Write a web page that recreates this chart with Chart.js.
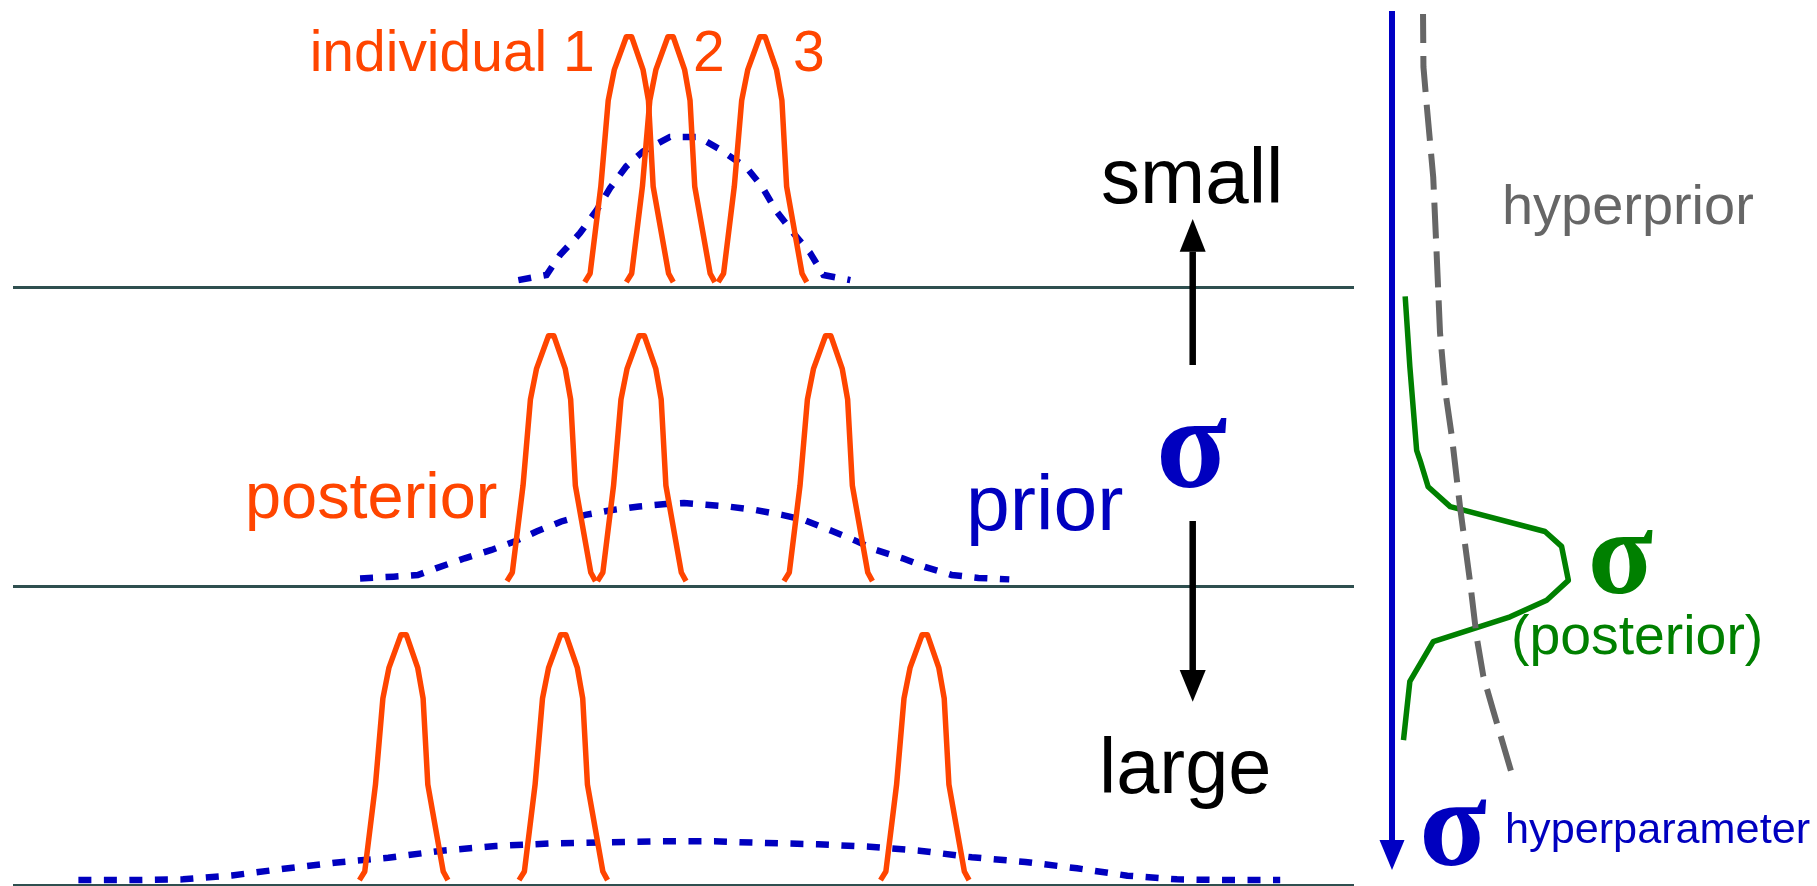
<!DOCTYPE html>
<html>
<head>
<meta charset="utf-8">
<title>Hierarchical prior: effect of the hyperparameter σ</title>
<script src="https://cdn.jsdelivr.net/npm/chart.js@4.4.1/dist/chart.umd.min.js"></script>
<style>
  html, body { margin: 0; padding: 0; background: #ffffff; overflow: hidden; }
  #stage { position: relative; width: 1817px; height: 886px; }
  #stage canvas { position: absolute; left: 0; }
</style>
</head>
<body>
<div id="stage">
  <canvas id="panelSmall" width="1360" height="299" style="top:0px"></canvas>
  <canvas id="panelMid" width="1360" height="299" style="top:299px"></canvas>
  <canvas id="panelLarge" width="1360" height="299" style="top:598px"></canvas>
  <canvas id="hyper" width="1817" height="886" style="top:0px"></canvas>
</div>
<script>
// ---------------------------------------------------------------
// Data (parameter θ on the horizontal axis, density vertically)
// ---------------------------------------------------------------

// Relative density at each vertex of an individual's posterior curve
const peakDensity = [0, 0.035, 0.39, 0.74, 0.865, 1, 1, 0.865, 0.74, 0.39, 0.035, 0];

// σ small: the three posteriors are pulled close together
const smallPost1X = [-1.47, -1.39, -1.23, -1.12, -1.03, -0.85, -0.77, -0.60, -0.52, -0.45, -0.22, -0.15];
const smallPost2X = [-0.85, -0.77, -0.61, -0.50, -0.41, -0.23, -0.15, 0.02, 0.10, 0.17, 0.40, 0.47];
const smallPost3X = [0.52, 0.60, 0.76, 0.87, 0.96, 1.14, 1.22, 1.39, 1.47, 1.54, 1.77, 1.84];
const smallPriorX = [-2.46, -2.04, -1.84, -1.54, -1.29, -1.09, -0.85, -0.60, -0.20, 0.22, 0.55, 0.95, 1.17, 1.39, 1.64, 1.89, 2.09, 2.49];
const smallPriorY = [0.008, 0.029, 0.110, 0.200, 0.294, 0.384, 0.472, 0.533, 0.592, 0.592, 0.540, 0.465, 0.390, 0.288, 0.200, 0.119, 0.029, 0.008];

// σ intermediate
const midPost1X = [-2.63, -2.55, -2.39, -2.28, -2.19, -2.01, -1.93, -1.76, -1.68, -1.61, -1.38, -1.31];
const midPost2X = [-1.28, -1.20, -1.04, -0.93, -0.84, -0.66, -0.58, -0.41, -0.33, -0.26, -0.03, 0.04];
const midPost3X = [1.50, 1.58, 1.74, 1.85, 1.94, 2.12, 2.20, 2.37, 2.45, 2.52, 2.75, 2.82];
const midPriorX = [-4.82, -4.32, -3.96, -3.69, -3.26, -2.86, -2.52, -2.19, -1.82, -1.46, -1.06, -0.66, -0.26, 0.01, 0.34, 0.67, 1.07, 1.47, 1.80, 2.20, 2.54, 2.87, 3.27, 3.60, 4.00, 4.40, 4.86];
const midPriorY = [0.011, 0.018, 0.025, 0.052, 0.093, 0.127, 0.161, 0.202, 0.243, 0.270, 0.290, 0.304, 0.314, 0.318, 0.311, 0.304, 0.290, 0.270, 0.249, 0.206, 0.168, 0.127, 0.093, 0.058, 0.025, 0.013, 0.007];

// σ large: the posteriors stay far apart
const largePost1X = [-4.83, -4.75, -4.59, -4.48, -4.39, -4.21, -4.13, -3.96, -3.88, -3.81, -3.58, -3.51];
const largePost2X = [-2.45, -2.37, -2.21, -2.10, -2.01, -1.83, -1.75, -1.58, -1.50, -1.43, -1.20, -1.13];
const largePost3X = [2.94, 3.02, 3.18, 3.29, 3.38, 3.56, 3.64, 3.81, 3.89, 3.96, 4.19, 4.26];
const largePriorX = [-9.02, -8.26, -7.46, -6.73, -5.96, -5.20, -4.40, -3.60, -2.80, -2.00, -1.20, -0.40, 0.46, 1.24, 2.01, 2.78, 3.52, 4.30, 5.10, 5.87, 6.62, 7.36, 8.16, 8.90];
const largePriorY = [0, 0, 0.003, 0.019, 0.046, 0.071, 0.091, 0.120, 0.139, 0.149, 0.154, 0.158, 0.158, 0.151, 0.146, 0.136, 0.120, 0.093, 0.074, 0.048, 0.018, 0.003, 0, 0];

// Hyperparameter σ (downward axis) with the hyperprior and the posterior of σ
const hyperpriorSigma   = [0.00, 0.64, 1.12, 1.97, 2.89, 3.85, 4.54, 5.11, 5.95, 6.87, 7.52, 8.00, 8.41, 9.23];
const hyperpriorDensity = [0.73, 0.74, 0.82, 0.97, 1.05, 1.13, 1.25, 1.41, 1.60, 1.84, 1.99, 2.15, 2.38, 2.85];
const sigmaPostSigma    = [3.41, 4.26, 5.27, 5.39, 5.71, 5.95, 6.25, 6.43, 6.84, 7.08, 7.28, 7.58, 8.06, 8.77];
const sigmaPostDensity  = [0.31, 0.42, 0.58, 0.66, 0.85, 1.37, 3.60, 3.99, 4.15, 3.64, 2.78, 0.97, 0.42, 0.27];

// ---------------------------------------------------------------
// Styles
// ---------------------------------------------------------------
const ORANGE = '#FF4500';
const BLUE = '#0000BF';
const AXIS_BLUE = '#0000C4';
const GREEN = '#008000';
const GREY = '#666666';
const BASELINE = '#2F4F4F';
const SANS = '"Liberation Sans", Arial, Helvetica, sans-serif';
const SERIF = '"Liberation Serif", "Times New Roman", serif';

function points(xs, ys) {
  return xs.map((x, i) => ({ x: x, y: ys[i] }));
}

const quiet = {
  responsive: false,
  animation: false,
  events: [],
  devicePixelRatio: 1,
  plugins: { legend: { display: false }, tooltip: { enabled: false }, title: { display: false } },
  elements: { point: { radius: 0, hoverRadius: 0 }, line: { tension: 0, fill: false } }
};

// One horizontal strip: three posteriors (solid) and the prior (dotted)
function panelChart(canvasId, posteriors, priorX, priorY) {
  const datasets = posteriors.map(xs => ({
    data: points(xs, peakDensity),
    borderColor: ORANGE,
    borderWidth: 5.5,
    borderJoinStyle: 'round',
    borderCapStyle: 'butt'
  }));
  datasets.push({
    data: points(priorX, priorY),
    borderColor: BLUE,
    borderWidth: 6.5,
    borderDash: [13, 12.5],
    borderCapStyle: 'butt'
  });
  return new Chart(document.getElementById(canvasId), {
    type: 'line',
    data: { datasets: datasets },
    options: Object.assign({}, quiet, {
      layout: { padding: { left: 14, right: 7, top: 0, bottom: 12 } },
      scales: {
        x: {
          type: 'linear', min: -9.98, max: 9.985,
          grid: { display: false, drawTicks: false },
          ticks: { display: false },
          border: { display: true, color: BASELINE, width: 3 }
        },
        y: { type: 'linear', min: -0.02, max: 1.15, display: false }
      }
    })
  });
}

panelChart('panelSmall', [smallPost1X, smallPost2X, smallPost3X], smallPriorX, smallPriorY);
panelChart('panelMid', [midPost1X, midPost2X, midPost3X], midPriorX, midPriorY);
panelChart('panelLarge', [largePost1X, largePost2X, largePost3X], largePriorX, largePriorY);

// ---------------------------------------------------------------
// Labels and arrows
// ---------------------------------------------------------------

// Draws text so that its ink fits between x0 and x1 (unless a size is given)
function inkText(ctx, text, family, weight, color, x0, x1, opts) {
  ctx.save();
  ctx.textAlign = 'left';
  ctx.textBaseline = 'alphabetic';
  let size = opts.size;
  if (!size) {
    ctx.font = weight + ' 100px ' + family;
    const m0 = ctx.measureText(text);
    size = 100 * (x1 - x0) / (m0.actualBoundingBoxLeft + m0.actualBoundingBoxRight);
  }
  ctx.font = weight + ' ' + size.toFixed(2) + 'px ' + family;
  const m = ctx.measureText(text);
  const x = x0 + m.actualBoundingBoxLeft;
  let y = opts.baseline;
  if (y === undefined) {
    y = opts.yc + (m.actualBoundingBoxAscent - m.actualBoundingBoxDescent) / 2;
  }
  ctx.fillStyle = color;
  ctx.fillText(text, x, y);
  ctx.restore();
  return size;
}

function arrow(ctx, x, yFrom, yHeadBase, yTip, shaftWidth, headWidth, color) {
  ctx.save();
  ctx.strokeStyle = color;
  ctx.fillStyle = color;
  ctx.lineWidth = shaftWidth;
  ctx.lineCap = 'butt';
  ctx.beginPath();
  ctx.moveTo(x, yFrom);
  ctx.lineTo(x, yHeadBase);
  ctx.stroke();
  ctx.beginPath();
  ctx.moveTo(x - headWidth / 2, yHeadBase);
  ctx.lineTo(x + headWidth / 2, yHeadBase);
  ctx.lineTo(x, yTip);
  ctx.closePath();
  ctx.fill();
  ctx.restore();
}

const labelPlugin = {
  id: 'diagramLabels',
  afterDraw(chart) {
    const ctx = chart.ctx;
    const area = chart.chartArea;

    // arrowhead at the end of the σ axis
    const axisX = chart.scales.y.right;
    ctx.save();
    ctx.fillStyle = AXIS_BLUE;
    ctx.beginPath();
    ctx.moveTo(axisX - 12.5, area.bottom - 2);
    ctx.lineTo(axisX + 12.5, area.bottom - 2);
    ctx.lineTo(axisX, area.bottom + 28);
    ctx.closePath();
    ctx.fill();
    ctx.restore();

    // individual labels
    const s = inkText(ctx, 'individual 1', SANS, 'normal', ORANGE, 312.7, 591.7, { baseline: 70.7 });
    inkText(ctx, '2', SANS, 'normal', ORANGE, 695, 722.7, { size: s, baseline: 70.7 });
    inkText(ctx, '3', SANS, 'normal', ORANGE, 795, 824, { size: s, baseline: 70.7 });

    inkText(ctx, 'posterior', SANS, 'normal', ORANGE, 249, 496.7, { baseline: 518.3 });
    inkText(ctx, 'prior', SANS, 'normal', BLUE, 971, 1122.7, { baseline: 530 });

    // σ small ↔ large
    inkText(ctx, 'small', SANS, 'normal', '#000000', 1103, 1279, { baseline: 202.7 });
    inkText(ctx, 'large', SANS, 'normal', '#000000', 1104, 1269, { baseline: 792.7 });
    inkText(ctx, 'σ', SERIF, 'bold', BLUE, 1160, 1226.7, { yc: 453 });
    arrow(ctx, 1192.7, 365, 251.7, 219, 6.5, 26, '#000000');
    arrow(ctx, 1192.7, 521, 670, 701.7, 6.5, 26, '#000000');

    // right-hand side
    inkText(ctx, 'hyperprior', SANS, 'normal', GREY, 1505, 1752.7, { baseline: 224 });
    inkText(ctx, 'σ', SERIF, 'bold', GREEN, 1591.7, 1653, { yc: 561.5 });
    inkText(ctx, '(posterior)', SANS, 'normal', GREEN, 1514, 1760, { baseline: 654 });
    inkText(ctx, 'σ', SERIF, 'bold', BLUE, 1423.3, 1486.7, { yc: 832 });
    inkText(ctx, 'hyperparameter', SANS, 'normal', BLUE, 1508, 1810, { baseline: 843.3 });
  }
};

new Chart(document.getElementById('hyper'), {
  type: 'line',
  data: {
    datasets: [
      {
        data: points(hyperpriorDensity, hyperpriorSigma),
        borderColor: GREY,
        borderWidth: 6,
        borderDash: [36, 13],
        borderDashOffset: 7,
        borderCapStyle: 'butt'
      },
      {
        data: points(sigmaPostDensity, sigmaPostSigma),
        borderColor: GREEN,
        borderWidth: 5.5,
        borderJoinStyle: 'round',
        borderCapStyle: 'butt'
      }
    ]
  },
  options: Object.assign({}, quiet, {
    layout: { padding: { left: 1392, right: 0, top: 14, bottom: 44 } },
    scales: {
      x: { type: 'linear', min: 0, max: 10, display: false },
      y: {
        type: 'linear', min: 0, max: 10, reverse: true, position: 'left',
        grid: { display: false, drawTicks: false },
        ticks: { display: false },
        border: { display: true, color: AXIS_BLUE, width: 6 }
      }
    }
  }),
  plugins: [labelPlugin]
});
</script>
</body>
</html>
